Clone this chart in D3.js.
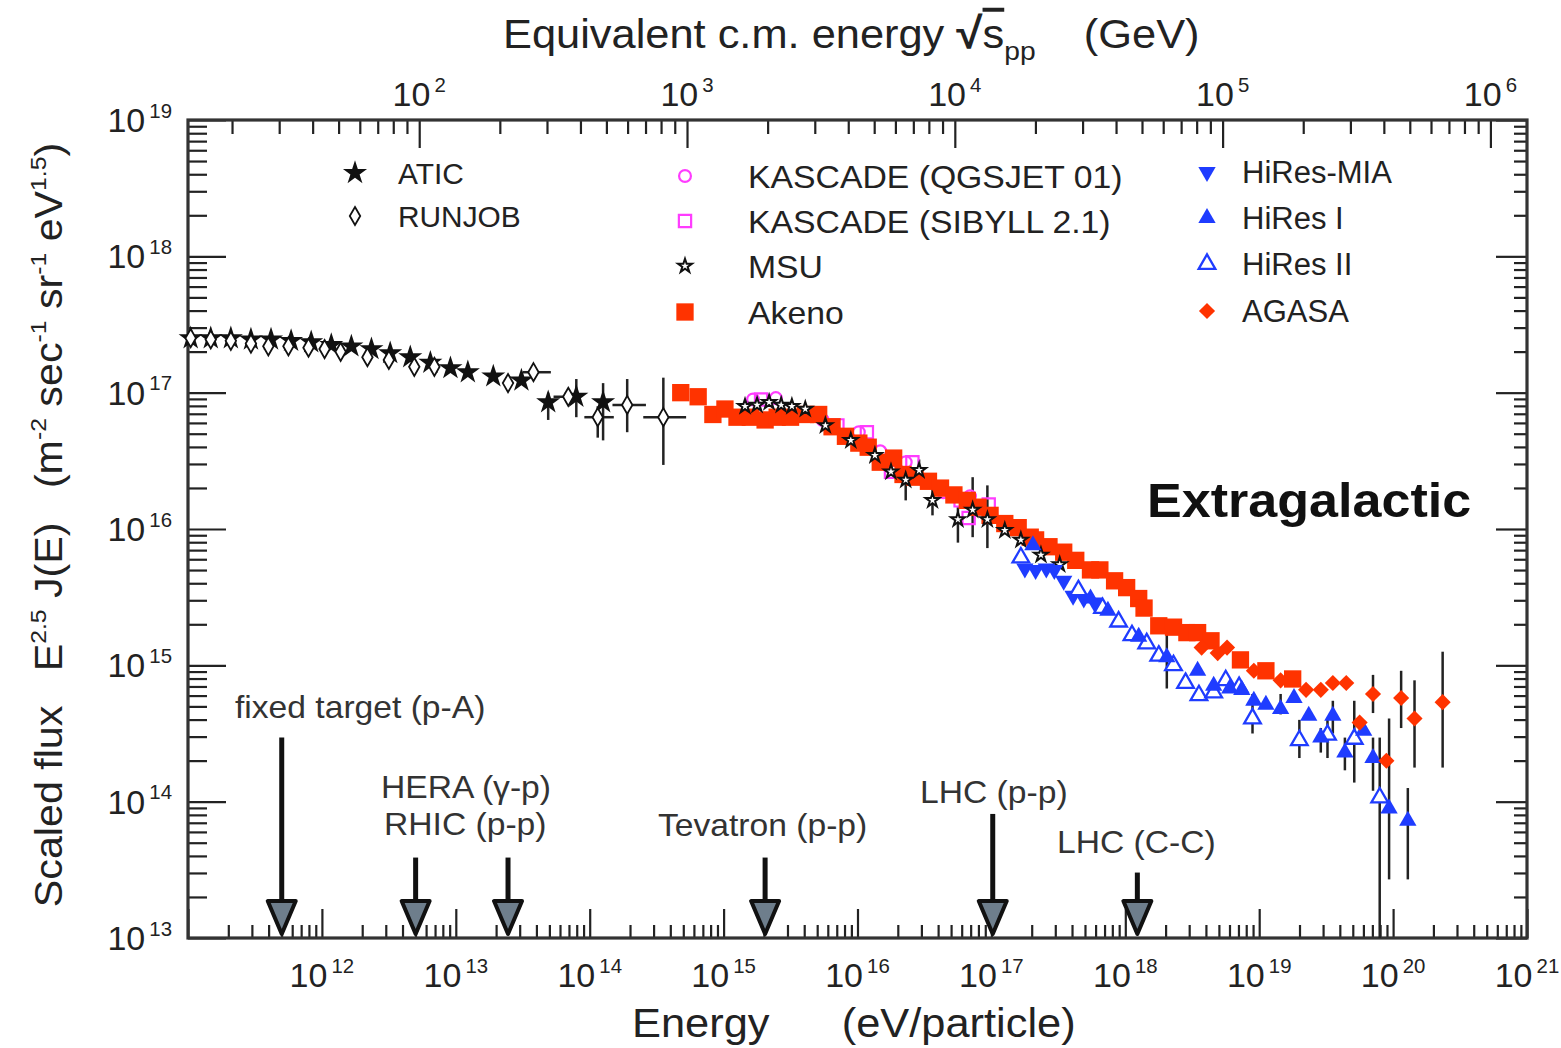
<!DOCTYPE html>
<html>
<head>
<meta charset="utf-8">
<script src="https://cdn.jsdelivr.net/npm/d3@7"></script>
<style>
body { margin: 0; background: #fff; }
svg text { font-family: "Liberation Sans", Arial, Helvetica, sans-serif; fill: #222; white-space: pre; }
</style>
</head>
<body>
<svg id="chart" width="1561" height="1048"></svg>
<script>
// all points: [log10(E/eV), log10(E^2.5 J)], optional error ends after that
var atic = [
  [11.02,17.40],[11.17,17.40],[11.32,17.40],[11.47,17.39],[11.62,17.39],[11.77,17.38],[11.92,17.37],
  [12.07,17.35],[12.22,17.34],[12.37,17.32],[12.51,17.29],[12.66,17.26],[12.81,17.22],[12.96,17.18],
  [13.09,17.15],[13.28,17.12],[13.49,17.09],
  [13.69,16.93,16.80,17.00],[13.90,16.97,16.82,17.10],[14.10,16.93,16.65,17.07]
];
// [lgE, lgF, lgElo, lgEhi, lgFlo, lgFhi]
var runjob = [
  [11.02,17.40],[11.17,17.39],[11.32,17.38],[11.47,17.36],[11.60,17.34],[11.75,17.34],[11.90,17.33],
  [12.02,17.32],[12.14,17.30],[12.34,17.26],[12.50,17.24],[12.69,17.19],[12.84,17.19],[13.39,17.07],
  [13.58,17.15,13.50,13.71,null,null],
  [13.84,16.97,13.73,13.93,null,null],
  [14.06,16.82,13.96,14.18,16.67,16.90],
  [14.28,16.91,14.17,14.42,16.71,17.10],
  [14.55,16.82,14.40,14.72,16.47,17.11]
];
var kascadeQgsjet = [[15.22,16.95],[15.39,16.96],[15.74,16.80],[16.01,16.71],[16.17,16.57],[16.36,16.49],[16.64,16.27],[16.84,16.24]];
var kascadeSibyll = [[15.28,16.95],[15.85,16.76],[16.07,16.71],[16.25,16.42],[16.41,16.49],[16.77,16.21],[16.83,16.08],[16.98,16.18]];
var msu = [
  [15.16,16.90],[15.25,16.91],[15.34,16.93],[15.43,16.91],[15.51,16.90],[15.61,16.88],[15.76,16.76],
  [15.95,16.65],[16.13,16.54],[16.25,16.42],
  [16.36,16.36,16.21,16.43],[16.46,16.43,16.36,16.51],[16.56,16.21,16.10,16.31],[16.75,16.07,15.90,16.16],
  [16.86,16.14,15.94,16.38],[16.97,16.07,15.86,16.32],
  [17.10,15.99],[17.22,15.92],[17.37,15.81],[17.51,15.74]
];
var akeno = [
  [14.68,17.00],[14.81,16.97],[14.92,16.84],[15.01,16.88],[15.10,16.82],[15.20,16.82],[15.31,16.80],
  [15.40,16.82],[15.50,16.82],[15.61,16.84],[15.71,16.84],[15.81,16.75],[15.91,16.68],[16.01,16.63],
  [16.08,16.60],[16.17,16.49],[16.27,16.52],[16.34,16.40],[16.43,16.38],[16.53,16.35],[16.62,16.30],
  [16.72,16.25],[16.82,16.21],[16.90,16.16],[16.99,16.10],[17.10,16.04],[17.20,16.01],[17.29,15.94],
  [17.33,15.92],[17.43,15.87],[17.54,15.83],[17.63,15.77],[17.74,15.70],[17.81,15.70],[17.92,15.62],
  [18.01,15.57],[18.10,15.49],[18.14,15.42],[18.25,15.29],[18.36,15.28],[18.46,15.24],[18.54,15.24],
  [18.64,15.18],[18.86,15.04],[19.05,14.96],[19.25,14.90]
];
var hiresMia = [[17.25,15.71],[17.33,15.70],[17.41,15.71],[17.47,15.70],[17.54,15.62],[17.61,15.51],[17.69,15.49],[17.77,15.46]];
var hiresI = [
  [17.31,15.88],[17.74,15.49],[17.87,15.40],[18.10,15.21],[18.31,15.06,14.83,15.24],[18.54,14.96],
  [18.66,14.85],[18.78,14.83],[18.87,14.82],[18.96,14.74],[19.05,14.71],[19.16,14.68,14.64,14.79],
  [19.26,14.76],[19.37,14.63],[19.46,14.47,14.36,14.54],[19.55,14.63,14.50,14.74],[19.64,14.36,14.23,14.47],
  [19.78,14.52],[19.85,14.32,14.08,14.47],[19.97,13.95,13.43,14.61],[20.11,13.86,13.43,14.10]
];
var hiresII = [
  [17.22,15.79],[17.65,15.55],[17.83,15.42],[17.95,15.32],[18.05,15.22],[18.16,15.16],[18.25,15.07],
  [18.36,15.00],[18.45,14.87],[18.55,14.78],[18.66,14.80],[18.75,14.89],[18.85,14.84],
  [18.95,14.61,14.50,14.79],[19.30,14.45,14.32,14.60],[19.51,14.49,14.32,14.60],[19.71,14.46,14.14,14.74],
  [19.90,14.03,13.00,14.47]
];
var agasa = [
  [18.57,15.13],[18.69,15.09],[18.76,15.13],[18.96,14.96],[19.16,14.89],[19.35,14.82],[19.46,14.82],
  [19.55,14.87],[19.65,14.87],[19.75,14.58],[19.85,14.79,14.65,14.93],[19.95,14.30],
  [20.06,14.76,14.54,14.96],[20.16,14.61,14.25,14.89],[20.37,14.73,14.25,15.10]
];

// accelerators: log10(E/eV) of arrow, log10 flux of arrow top
var beamLabels = ["fixed target (p-A)", "HERA (\u03b3-p)", "RHIC (p-p)", "Tevatron (p-p)", "LHC (p-p)", "LHC (C-C)"];
var beamE = [11.70, 12.70, 13.39, 15.31, 17.01, 18.09];
var beamTop = [14.47, 13.59, 13.59, 13.59, 13.91, 13.48];

var xDecades = d3.range(11, 22);
var yDecades = d3.range(13, 20);
var topDecades = d3.range(2, 7);

var svg = d3.select("#chart");
var pL = 188, pR = 1527, pT = 120, pB = 938;
var SX = 1.085; // text in the original is a bit wide

var x = d3.scaleLog().domain([1e11, 1e21]).range([pL, pR]);
var y = d3.scaleLog().domain([1e13, 1e19]).range([pB, pT]);
var mp = 0.938; // proton mass GeV
function sqrtS(e) { return Math.sqrt(2 * mp * e / 1e9); }
var xTop = d3.scaleLog().domain([sqrtS(1e11), sqrtS(1e21)]).range([pL, pR]);

function p10(v) { return Math.pow(10, v); }
function minors(d0, d1, lo, hi) {
  var out = [];
  for (var d = d0; d <= d1; d++)
    for (var k = 2; k <= 9; k++) {
      var v = k * p10(d);
      if (v > lo && v < hi) out.push(v);
    }
  return out;
}
function place(t, px, py, sx) {
  return t.attr("transform", "translate(" + px + "," + py + ") scale(" + sx + ",1)");
}

function drawAxis(axisFn, scale, majors, minorVals, tx, ty, majLen, minLen) {
  var g = svg.append("g").attr("transform", "translate(" + tx + "," + ty + ")");
  g.append("g").call(axisFn(scale).tickValues(minorVals).tickSize(-minLen).tickSizeOuter(0).tickFormat(""));
  g.append("g").call(axisFn(scale).tickValues(majors).tickSize(-majLen).tickSizeOuter(0).tickFormat(""));
  g.selectAll(".domain").remove();
  g.selectAll(".tick line").attr("stroke", "#222").attr("stroke-width", 2.2);
}

drawAxis(d3.axisBottom, x, xDecades.map(p10), minors(11, 20, 1e11, 1e21), 0, pB, 29, 13);
drawAxis(d3.axisLeft, y, yDecades.map(p10), minors(13, 18, 1e13, 1e19), pL, 0, 38, 19);
drawAxis(d3.axisRight, y, yDecades.map(p10), minors(13, 18, 1e13, 1e19), pR, 0, 31, 13);
drawAxis(d3.axisTop, xTop, topDecades.map(p10), minors(1, 5, xTop.domain()[0], xTop.domain()[1]), 0, pT, 28, 14);

svg.append("rect").attr("x", pL).attr("y", pT).attr("width", pR - pL).attr("height", pB - pT)
  .attr("fill", "none").attr("stroke", "#333").attr("stroke-width", 3.2);

// rich text: parts = [text, kind], kind n / sup / sub
function rich(g, parts, base) {
  var t = g.append("text").attr("font-size", base);
  var shift = 0;
  parts.forEach(function(p) {
    var ts = t.append("tspan").text(p[0]);
    var target = p[1] === "sup" ? -base * 0.42 : p[1] === "sub" ? base * 0.32 : 0;
    if (target - shift !== 0) ts.attr("dy", target - shift);
    shift = target;
    if (p[1] !== "n") ts.attr("font-size", base * 0.6);
  });
  return t;
}
function power(d) {
  return [["10", "n"], ["\u2009" + d, "sup"]];
}

// tick labels
xDecades.slice(1).forEach(function(d) {
  rich(svg, power(d), 34).attr("x", x(p10(d))).attr("y", 987).attr("text-anchor", "middle");
});
yDecades.forEach(function(d) {
  rich(svg, power(d), 34).attr("x", 172).attr("y", y(p10(d)) + 12).attr("text-anchor", "end");
});
topDecades.forEach(function(d) {
  rich(svg, power(d), 34).attr("x", xTop(p10(d))).attr("y", 106).attr("text-anchor", "middle");
});

// axis titles
place(svg.append("text").attr("font-size", 40).text("Energy      (eV/particle)"), 632, 1037, SX);

var tt = place(svg.append("text").attr("font-size", 40), 503, 48, SX);
tt.append("tspan").text("Equivalent c.m. energy ");
tt.append("tspan").attr("font-weight", "bold").attr("font-size", 44).text("\u221a");
tt.append("tspan").style("text-decoration", "overline").text("s");
tt.append("tspan").attr("font-size", 26).attr("dy", 12).text("pp");
tt.append("tspan").attr("dy", -12).text("    (GeV)");

var yt = svg.append("g").attr("transform", "translate(62,525) rotate(-90) scale(" + SX + ",1)");
rich(yt, [["Scaled flux   E", "n"], ["2.5", "sup"], [" J(E)   (m", "n"], ["-2", "sup"], [" sec", "n"], ["-1", "sup"],
          [" sr", "n"], ["-1", "sup"], [" eV", "n"], ["1.5", "sup"], [")", "n"]], 38).attr("text-anchor", "middle");

place(svg.append("text").attr("font-size", 48).attr("font-weight", "bold").style("fill", "#111").text("Extragalactic"),
  1147, 517, SX);

// accelerator arrows
var labelPos = [[235, 718], [381, 798], [384, 835], [658, 836], [920, 803], [1057, 853]];
beamLabels.forEach(function(s, i) {
  place(svg.append("text").attr("font-size", 31).style("fill", "#333").text(s), labelPos[i][0], labelPos[i][1], SX);
});
beamE.forEach(function(e, i) {
  var ax = x(p10(e));
  svg.append("line").attr("x1", ax).attr("x2", ax).attr("y1", y(p10(beamTop[i]))).attr("y2", 932)
    .attr("stroke", "#111").attr("stroke-width", 5);
  svg.append("path").attr("d", "M" + (ax - 14) + ",901L" + (ax + 14) + ",901L" + ax + ",934Z")
    .attr("fill", "#6e7e8c").attr("stroke", "#111").attr("stroke-width", 4).attr("stroke-linejoin", "round");
});

// data
var red = "#ff3300", blue = "#1f3cff", magenta = "#ff3cff";
var plot = svg.append("g");

function vErr(data, iLo, iHi) {
  plot.selectAll(null).data(data.filter(function(d) { return d[iLo] != null; }))
    .enter().append("line")
    .attr("x1", function(d) { return x(p10(d[0])); }).attr("x2", function(d) { return x(p10(d[0])); })
    .attr("y1", function(d) { return y(p10(d[iLo])); }).attr("y2", function(d) { return y(p10(d[iHi])); })
    .attr("stroke", "#222").attr("stroke-width", 2.5);
}
function hErr(data, iLo, iHi) {
  plot.selectAll(null).data(data.filter(function(d) { return d[iLo] != null; }))
    .enter().append("line")
    .attr("x1", function(d) { return x(p10(d[iLo])); }).attr("x2", function(d) { return x(p10(d[iHi])); })
    .attr("y1", function(d) { return y(p10(d[1])); }).attr("y2", function(d) { return y(p10(d[1])); })
    .attr("stroke", "#222").attr("stroke-width", 2.5);
}

var styles = {
  atic:   { type: d3.symbolStar, size: 180, fill: "#111", stroke: "none", sw: 0, rot: 0 },
  runjob: { type: d3.symbolDiamond, size: 95, fill: "#fff", stroke: "#111", sw: 1.8, rot: 0 },
  kq:     { type: d3.symbolCircle, size: 110, fill: "none", stroke: magenta, sw: 2.2, rot: 0 },
  ks:     { type: d3.symbolSquare, size: 150, fill: "none", stroke: magenta, sw: 2.2, rot: 0 },
  msu:    { type: d3.symbolStar, size: 60, fill: "#fff", stroke: "#111", sw: 2, rot: 0 },
  akeno:  { type: d3.symbolSquare, size: 300, fill: red, stroke: "none", sw: 0, rot: 0 },
  mia:    { type: d3.symbolTriangle, size: 130, fill: blue, stroke: "none", sw: 0, rot: 180 },
  h1:     { type: d3.symbolTriangle, size: 130, fill: blue, stroke: "none", sw: 0, rot: 0 },
  h2:     { type: d3.symbolTriangle, size: 120, fill: "#fff", stroke: blue, sw: 2.3, rot: 0 },
  agasa:  { type: d3.symbolSquare, size: 130, fill: red, stroke: "none", sw: 0, rot: 45 }
};

function marker(g, st, px, py) {
  return g.append("path").attr("d", d3.symbol().type(st.type).size(st.size)())
    .attr("transform", "translate(" + px + "," + py + ") rotate(" + st.rot + ")")
    .attr("fill", st.fill).attr("stroke", st.stroke).attr("stroke-width", st.sw);
}
function series(data, st) {
  data.forEach(function(d) { marker(plot, st, x(p10(d[0])), y(p10(d[1]))); });
}

vErr(atic, 2, 3);
hErr(runjob, 2, 3);
vErr(runjob, 4, 5);
vErr(msu, 2, 3);
vErr(hiresI, 2, 3);
vErr(hiresII, 2, 3);
vErr(agasa, 2, 3);

series(atic, styles.atic);
series(runjob, styles.runjob);
series(kascadeQgsjet, styles.kq);
series(kascadeSibyll, styles.ks);
series(akeno, styles.akeno);
series(msu, styles.msu);
series(hiresMia, styles.mia);
series(hiresII, styles.h2);
series(hiresI, styles.h1);
series(agasa, styles.agasa);

// legend
var legend = [
  { name: "ATIC", st: styles.atic, sx: 355, tx: 398, y: 173, fs: 29, k: 1.03 },
  { name: "RUNJOB", st: styles.runjob, sx: 355, tx: 398, y: 216, fs: 29, k: 1.03 },
  { name: "KASCADE (QGSJET 01)", st: styles.kq, sx: 685, tx: 748, y: 176, fs: 32, k: 1.055 },
  { name: "KASCADE (SIBYLL 2.1)", st: styles.ks, sx: 685, tx: 748, y: 221, fs: 32, k: 1.055 },
  { name: "MSU", st: styles.msu, sx: 685, tx: 748, y: 266, fs: 32, k: 1.055 },
  { name: "Akeno", st: styles.akeno, sx: 685, tx: 748, y: 312, fs: 32, k: 1.055 },
  { name: "HiRes-MIA", st: styles.mia, sx: 1207, tx: 1242, y: 172, fs: 31, k: 1 },
  { name: "HiRes I", st: styles.h1, sx: 1207, tx: 1242, y: 218, fs: 31, k: 1 },
  { name: "HiRes II", st: styles.h2, sx: 1207, tx: 1242, y: 264, fs: 31, k: 1 },
  { name: "AGASA", st: styles.agasa, sx: 1207, tx: 1242, y: 311, fs: 31, k: 1 }
];
var lg = svg.append("g");
legend.forEach(function(l) {
  marker(lg, l.st, l.sx, l.y);
  place(lg.append("text").attr("font-size", l.fs).text(l.name), l.tx, l.y + l.fs * 0.37, l.k);
});
</script>
</body>
</html>
